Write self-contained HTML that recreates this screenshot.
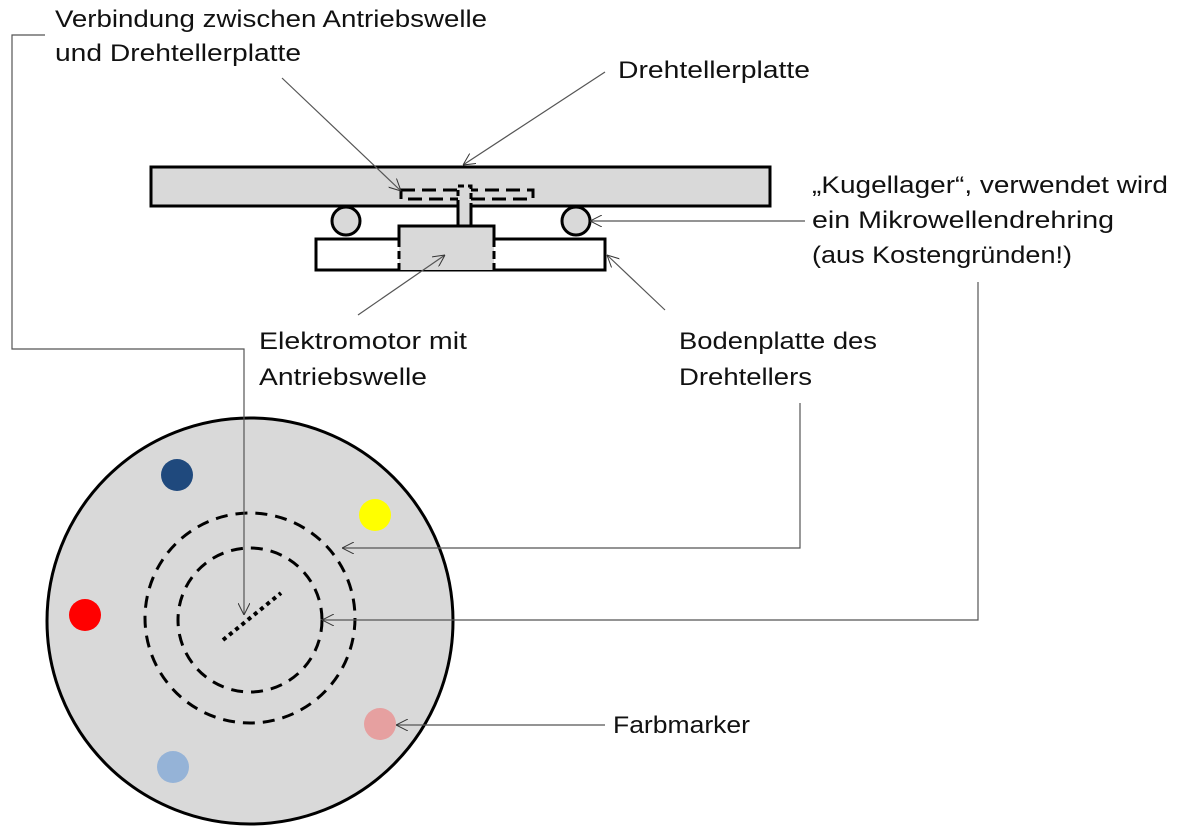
<!DOCTYPE html>
<html><head><meta charset="utf-8"><style>html,body{margin:0;padding:0;background:#fff}svg{display:block}</style></head>
<body>
<svg width="1182" height="834" viewBox="0 0 1182 834" xmlns="http://www.w3.org/2000/svg">
<defs>
<marker id="a" viewBox="0 0 12 12" refX="12" refY="6" markerWidth="12" markerHeight="12" markerUnits="userSpaceOnUse" orient="auto">
<path d="M0,0 L12,6 L0,12" fill="none" stroke="#333" stroke-width="1"/>
</marker>
</defs>
<g font-family="Liberation Sans, sans-serif" font-size="24" fill="#111">
<text x="55" y="27" textLength="432" lengthAdjust="spacingAndGlyphs">Verbindung zwischen Antriebswelle</text>
<text x="55" y="61" textLength="246" lengthAdjust="spacingAndGlyphs">und Drehtellerplatte</text>
<text x="618" y="78" textLength="192" lengthAdjust="spacingAndGlyphs">Drehtellerplatte</text>
<text x="812" y="193" textLength="356" lengthAdjust="spacingAndGlyphs">„Kugellager“, verwendet wird</text>
<text x="812" y="228" textLength="302" lengthAdjust="spacingAndGlyphs">ein Mikrowellendrehring</text>
<text x="812" y="263" textLength="260" lengthAdjust="spacingAndGlyphs">(aus Kostengründen!)</text>
<text x="259" y="349" textLength="208" lengthAdjust="spacingAndGlyphs">Elektromotor mit</text>
<text x="259" y="385" textLength="168" lengthAdjust="spacingAndGlyphs">Antriebswelle</text>
<text x="679" y="349" textLength="198" lengthAdjust="spacingAndGlyphs">Bodenplatte des</text>
<text x="679" y="385" textLength="133" lengthAdjust="spacingAndGlyphs">Drehtellers</text>
<text x="613" y="733" textLength="137" lengthAdjust="spacingAndGlyphs">Farbmarker</text>
</g>
<rect x="151" y="167" width="619" height="39" fill="#d9d9d9" stroke="#000" stroke-width="3"/>
<path d="M401,190 H533 V199 H401 Z" fill="none" stroke="#000" stroke-width="3" stroke-dasharray="14,7"/>
<rect x="458" y="186" width="13" height="40" fill="#d9d9d9" stroke="none"/>
<path d="M458,206 V186 H471 V206" fill="none" stroke="#000" stroke-width="3" stroke-dasharray="6,4"/>
<path d="M458,206 V226 M471,206 V226" fill="none" stroke="#000" stroke-width="3"/>
<circle cx="346" cy="221" r="14" fill="#d9d9d9" stroke="#000" stroke-width="3"/>
<circle cx="576" cy="221" r="14" fill="#d9d9d9" stroke="#000" stroke-width="3"/>
<rect x="316" y="239" width="289" height="31" fill="#fff" stroke="#000" stroke-width="3"/>
<rect x="399" y="226" width="95" height="44" fill="#d9d9d9" stroke="none"/>
<path d="M399,239 V226 H494 V239" fill="none" stroke="#000" stroke-width="3"/>
<path d="M399,239 V270 M494,239 V270" fill="none" stroke="#000" stroke-width="3" stroke-dasharray="8,4"/>
<circle cx="250" cy="621" r="203" fill="#d9d9d9" stroke="#000" stroke-width="3"/>
<circle cx="250" cy="618" r="105" fill="none" stroke="#000" stroke-width="3" stroke-dasharray="12,8"/>
<circle cx="250" cy="620" r="72" fill="none" stroke="#000" stroke-width="3" stroke-dasharray="12,8"/>
<line x1="223" y1="640" x2="281" y2="593" stroke="#000" stroke-width="4" stroke-dasharray="4,4"/>
<circle cx="177" cy="475" r="16" fill="#1f497d"/>
<circle cx="375" cy="515" r="16" fill="#ffff00"/>
<circle cx="85" cy="615" r="16" fill="#ff0000"/>
<circle cx="380" cy="724" r="16" fill="#e6a0a0"/>
<circle cx="173" cy="767" r="16" fill="#95b3d7"/>
<g fill="none" stroke="#555" stroke-width="1.2">
<path d="M45,35 H12 V349 H244 V615" marker-end="url(#a)"/>
<path d="M282,78 L401,191" marker-end="url(#a)"/>
<path d="M605,72 L463,165" marker-end="url(#a)"/>
<path d="M805,221 L590,221" marker-end="url(#a)"/>
<path d="M665,310 L607,255" marker-end="url(#a)"/>
<path d="M358,315 L445,255" marker-end="url(#a)"/>
<path d="M800,403 V548 H342" marker-end="url(#a)"/>
<path d="M978,282 V620 H322" marker-end="url(#a)"/>
<path d="M605,725 L396,725" marker-end="url(#a)"/>
</g>
</svg>
</body></html>
